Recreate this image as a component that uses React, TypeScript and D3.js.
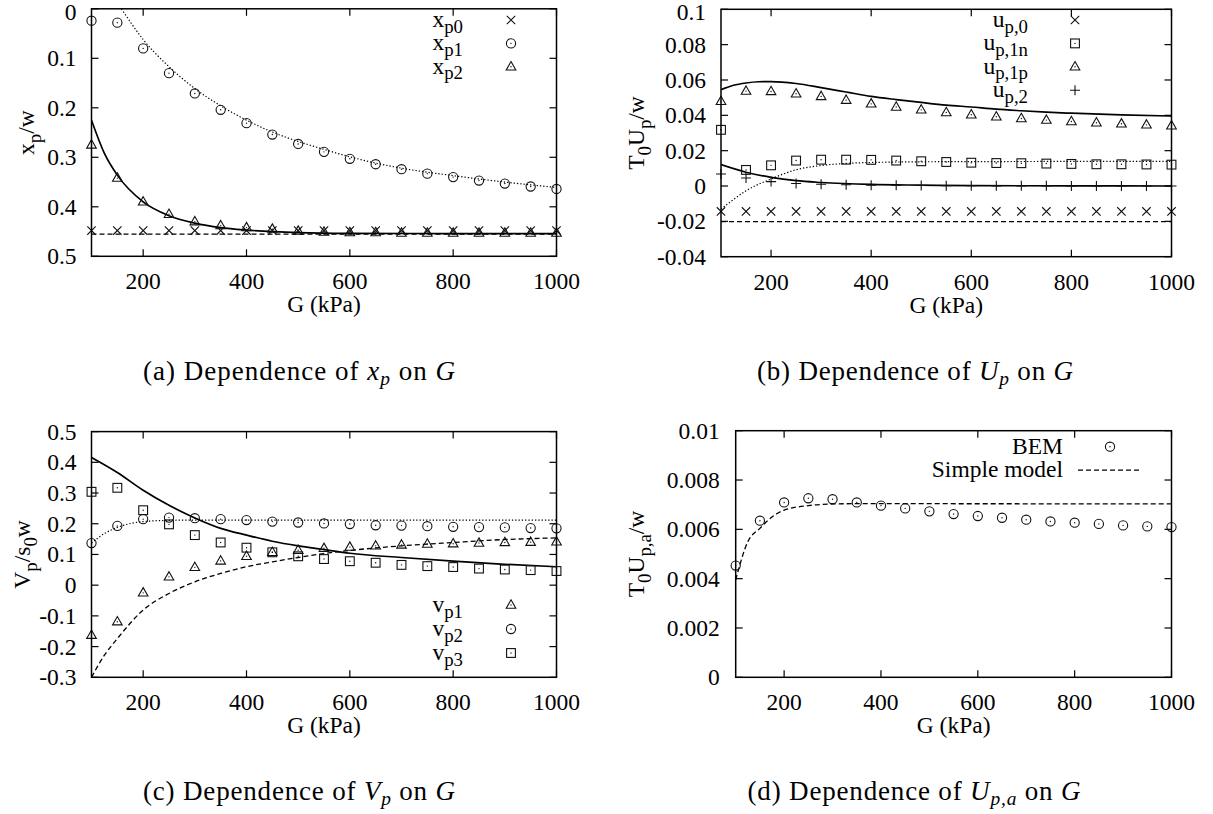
import React from 'react';
import * as d3 from 'd3';

const W = 1213;
const H = 814;
const FONT = "'Liberation Serif', 'Times New Roman', serif";

const G = [100, 150, 200, 250, 300, 350, 400, 450, 500, 550, 600, 650, 700, 750, 800, 850, 900, 950, 1000];
const xTicks = [200, 400, 600, 800, 1000];

// ---------- (a) x_p / w ----------
const aTicks = [0, 0.1, 0.2, 0.3, 0.4, 0.5];
const aTickLabels = ['0', '0.1', '0.2', '0.3', '0.4', '0.5'];
const xp0 = [0.448, 0.448, 0.448, 0.448, 0.448, 0.448, 0.448, 0.448, 0.448, 0.448, 0.448, 0.448, 0.448, 0.448, 0.448, 0.448, 0.448, 0.448, 0.448];
const xp1 = [0.024, 0.028, 0.080, 0.130, 0.171, 0.204, 0.231, 0.254, 0.273, 0.289, 0.303, 0.314, 0.324, 0.333, 0.340, 0.347, 0.353, 0.359, 0.364];
const xp2 = [0.275, 0.342, 0.390, 0.415, 0.430, 0.438, 0.442, 0.445, 0.449, 0.451, 0.452, 0.452, 0.453, 0.453, 0.453, 0.453, 0.453, 0.453, 0.453];
const xp0ModelG = [100, 1000];
const xp0Model = [0.455, 0.455];
const xp1ModelG = [158, 200, 250, 300, 350, 400, 450, 500, 550, 600, 700, 800, 900, 1000];
const xp1Model = [0.0, 0.062, 0.117, 0.161, 0.196, 0.225, 0.249, 0.268, 0.284, 0.299, 0.322, 0.337, 0.350, 0.361];
const xp2ModelG = [100, 125, 150, 200, 250, 300, 350, 400, 500, 600, 800, 1000];
const xp2Model = [0.225, 0.292, 0.336, 0.390, 0.418, 0.433, 0.442, 0.447, 0.452, 0.4535, 0.454, 0.454];

// ---------- (b) T0 U_p / w ----------
const bTicks = [0.1, 0.08, 0.06, 0.04, 0.02, 0, -0.02, -0.04];
const bTickLabels = ['0.1', '0.08', '0.06', '0.04', '0.02', '0', '-0.02', '-0.04'];
const up0 = [-0.0144, -0.0144, -0.0144, -0.0144, -0.0144, -0.0144, -0.0144, -0.0144, -0.0144, -0.0144, -0.0144, -0.0144, -0.0144, -0.0144, -0.0144, -0.0144, -0.0144, -0.0144, -0.0144];
const up1n = [0.0318, 0.0091, 0.0117, 0.0144, 0.0149, 0.0149, 0.0148, 0.0144, 0.0140, 0.0136, 0.0132, 0.0130, 0.0129, 0.0127, 0.0125, 0.0123, 0.0123, 0.0122, 0.0121];
const up1p = [0.0479, 0.0537, 0.0535, 0.0522, 0.0507, 0.0486, 0.0465, 0.0447, 0.0431, 0.0416, 0.0403, 0.0392, 0.0382, 0.0373, 0.0365, 0.0358, 0.0352, 0.0346, 0.0341];
const up2 = [0.0068, 0.0045, 0.0025, 0.0014, 0.0010, 0.0007, 0.0005, 0.0004, 0.0003, 0.0002, 0.0002, 0.0001, 0.0001, 0.0001, 0, 0, 0, 0, 0];
const up0ModelG = [100, 1000];
const up0Model = [-0.0202, -0.0202];
const up1nModelG = [100, 121, 150, 200, 250, 300, 350, 400, 500, 600, 800, 1000];
const up1nModel = [-0.013, -0.0085, -0.0027, 0.0040, 0.0092, 0.0116, 0.0128, 0.0133, 0.0137, 0.0138, 0.0139, 0.0139];
const up1pModelG = [100, 125, 150, 175, 200, 250, 300, 350, 400, 450, 500, 550, 600, 650, 700, 750, 800, 900, 1000];
const up1pModel = [0.0545, 0.0570, 0.0583, 0.0590, 0.0591, 0.0580, 0.0557, 0.0532, 0.0507, 0.0489, 0.0473, 0.0458, 0.0447, 0.0435, 0.0426, 0.0418, 0.0412, 0.0403, 0.0396];
const up2ModelG = [100, 150, 200, 250, 300, 400, 500, 600, 800, 1000];
const up2Model = [0.0121, 0.0078, 0.0049, 0.0030, 0.0020, 0.0009, 0.0005, 0.0002, 0.0001, 0.0];

// ---------- (c) V_p / s0 w ----------
const cTicks = [0.5, 0.4, 0.3, 0.2, 0.1, 0, -0.1, -0.2, -0.3];
const cTickLabels = ['0.5', '0.4', '0.3', '0.2', '0.1', '0', '-0.1', '-0.2', '-0.3'];
const vp1 = [-0.163, -0.119, -0.025, 0.027, 0.058, 0.079, 0.094, 0.107, 0.114, 0.120, 0.124, 0.128, 0.131, 0.134, 0.135, 0.137, 0.139, 0.140, 0.141];
const vp2 = [0.137, 0.193, 0.215, 0.220, 0.218, 0.215, 0.212, 0.207, 0.204, 0.201, 0.199, 0.195, 0.194, 0.192, 0.190, 0.189, 0.188, 0.186, 0.185];
const vp3 = [0.304, 0.317, 0.244, 0.198, 0.163, 0.139, 0.122, 0.107, 0.094, 0.085, 0.078, 0.073, 0.066, 0.062, 0.059, 0.054, 0.051, 0.049, 0.046];
const vp1ModelG = [100, 125, 150, 200, 250, 300, 350, 400, 450, 500, 550, 600, 700, 800, 880, 1000];
const vp1Model = [-0.300, -0.228, -0.174, -0.081, -0.027, 0.011, 0.038, 0.060, 0.076, 0.090, 0.103, 0.113, 0.128, 0.139, 0.147, 0.154];
const vp2ModelG = [100, 125, 150, 200, 250, 300, 1000];
const vp2Model = [0.137, 0.168, 0.188, 0.207, 0.211, 0.212, 0.212];
const vp3ModelG = [100, 150, 200, 250, 300, 350, 400, 450, 500, 550, 600, 700, 800, 900, 1000];
const vp3Model = [0.416, 0.367, 0.309, 0.260, 0.219, 0.185, 0.163, 0.143, 0.128, 0.116, 0.104, 0.090, 0.078, 0.068, 0.060];

// ---------- (d) T0 U_pa / w ----------
const dTicks = [0.01, 0.008, 0.006, 0.004, 0.002, 0];
const dTickLabels = ['0.01', '0.008', '0.006', '0.004', '0.002', '0'];
const upaBEM = [0.00453, 0.00635, 0.00709, 0.00726, 0.00722, 0.00709, 0.00696, 0.00685, 0.00673, 0.00662, 0.00654, 0.00647, 0.00639, 0.00632, 0.00627, 0.00622, 0.00616, 0.00612, 0.00609];
const upaModelG = [100, 125, 150, 175, 200, 250, 300, 350, 1000];
const upaModel = [0.00395, 0.0055, 0.00604, 0.0065, 0.00678, 0.00696, 0.00703, 0.00704, 0.00703];

type Seg = { t: string; sub?: boolean; it?: boolean };

function Rich({ x, y, segs, size, anchor = 'start', rotate = false, subShift = 0.28, subScale = 0.8, textLength }: any) {
  let cur = 0;
  const spans = (segs as Seg[]).map((s, i) => {
    const target = s.sub ? size * subShift : 0;
    const dy = target - cur;
    cur = target;
    return (
      <tspan key={i} dy={dy} fontSize={s.sub ? size * subScale : size} fontStyle={s.it ? 'italic' : 'normal'}>
        {s.t}
      </tspan>
    );
  });
  return (
    <text
      x={x}
      y={y}
      textAnchor={anchor}
      fontFamily={FONT}
      fontSize={size}
      fill="#000"
      textLength={textLength}
      lengthAdjust={textLength ? 'spacing' : undefined}
      transform={rotate ? `rotate(-90 ${x} ${y})` : undefined}
    >
      {spans}
    </text>
  );
}

function Marker({ type, cx, cy }: { type: string; cx: number; cy: number }) {
  const s = { stroke: '#111', strokeWidth: 1.1, fill: 'none' };
  const dot = <circle cx={cx} cy={cy} r={0.7} fill="#111" />;
  switch (type) {
    case 'cross':
      return <path {...s} d={`M${cx - 4.2},${cy - 4.2}L${cx + 4.2},${cy + 4.2}M${cx - 4.2},${cy + 4.2}L${cx + 4.2},${cy - 4.2}`} />;
    case 'plus':
      return <path {...s} d={`M${cx - 5},${cy}L${cx + 5},${cy}M${cx},${cy - 5}L${cx},${cy + 5}`} />;
    case 'circle':
      return (
        <g>
          <circle {...s} cx={cx} cy={cy} r={4.6} />
          {dot}
        </g>
      );
    case 'triangle':
      return (
        <g>
          <path {...s} d={`M${cx},${cy - 5.2}L${cx + 4.8},${cy + 3.2}L${cx - 4.8},${cy + 3.2}Z`} />
          {dot}
        </g>
      );
    case 'square':
      return (
        <g>
          <rect {...s} x={cx - 4.4} y={cy - 4.4} width={8.8} height={8.8} />
          {dot}
        </g>
      );
    default:
      return null;
  }
}

const DASH: Record<string, string | undefined> = {
  solid: undefined,
  dashed: '5 3',
  dotted: '1.3 2',
};
const LW: Record<string, number> = { solid: 1.7, dashed: 1.3, dotted: 1.2 };

function Panel({ id, box, yDomain, ticks, tickLabels, points, lines, legend, ytitle, ytitleX, tickLabelGap }: any) {
  const x = d3.scaleLinear().domain([100, 1000]).range([box.x0, box.x1]);
  const y = d3.scaleLinear().domain(yDomain).range([box.y1, box.y0]);
  const tick = 7;
  const fs = 23.5;
  return (
    <g>
      <defs>
        <clipPath id={`clip-${id}`}>
          <rect x={box.x0} y={box.y0} width={box.x1 - box.x0} height={box.y1 - box.y0} />
        </clipPath>
      </defs>
      {xTicks.map((t) => (
        <g key={`xt${t}`}>
          <line x1={x(t)} x2={x(t)} y1={box.y1} y2={box.y1 - tick} stroke="#000" strokeWidth={1.2} />
          <line x1={x(t)} x2={x(t)} y1={box.y0} y2={box.y0 + tick} stroke="#000" strokeWidth={1.2} />
          <text x={x(t)} y={box.y1 + 33} textAnchor="middle" fontFamily={FONT} fontSize={fs}>
            {t}
          </text>
        </g>
      ))}
      {ticks.map((t: number, i: number) => (
        <g key={`yt${i}`}>
          <line x1={box.x0} x2={box.x0 + tick} y1={y(t)} y2={y(t)} stroke="#000" strokeWidth={1.2} />
          <line x1={box.x1} x2={box.x1 - tick} y1={y(t)} y2={y(t)} stroke="#000" strokeWidth={1.2} />
          <text x={box.x0 - tickLabelGap} y={Math.max(y(t) + 8, 19.5)} textAnchor="end" fontFamily={FONT} fontSize={fs}>
            {tickLabels[i]}
          </text>
        </g>
      ))}
      <g clipPath={`url(#clip-${id})`}>
        {lines.map((l: any, i: number) => {
          const gen = d3
            .line<number>()
            .x((_, j) => x(l.g[j]))
            .y((v) => y(v))
            .curve(d3.curveMonotoneX);
          return (
            <path
              key={`l${i}`}
              d={gen(l.v) || ''}
              fill="none"
              stroke="#000"
              strokeWidth={LW[l.style]}
              strokeDasharray={DASH[l.style]}
            />
          );
        })}
      </g>
      {points.map((p: any, i: number) => (
        <g key={`p${i}`}>
          {p.v.map((v: number, j: number) => (
            <Marker key={j} type={p.marker} cx={x(G[j])} cy={y(v)} />
          ))}
        </g>
      ))}
      <rect x={box.x0} y={box.y0} width={box.x1 - box.x0} height={box.y1 - box.y0} fill="none" stroke="#000" strokeWidth={1.5} />
      {legend.entries.map((e: any, i: number) => {
        const ly = legend.y0 + i * legend.dy;
        return (
          <g key={`lg${i}`}>
            <Rich x={legend.textX} y={ly + 7} segs={e.segs} size={fs} anchor="end" subShift={0.24} />
            {e.marker ? (
              <Marker type={e.marker} cx={legend.symX} cy={ly} />
            ) : (
              <line
                x1={legend.symX - 32}
                x2={legend.symX + 32}
                y1={ly}
                y2={ly}
                stroke="#000"
                strokeWidth={LW[e.style]}
                strokeDasharray={DASH[e.style]}
              />
            )}
          </g>
        );
      })}
      <text x={(box.x0 + box.x1) / 2} y={box.y1 + 56} textAnchor="middle" fontFamily={FONT} fontSize={fs}>
        G (kPa)
      </text>
      <Rich x={ytitleX} y={(box.y0 + box.y1) / 2} segs={ytitle} size={fs} anchor="middle" rotate />
    </g>
  );
}

function Caption({ x, y, segs, len }: any) {
  return <Rich x={x} y={y} segs={segs} size={27} anchor="middle" subShift={0.2} subScale={0.72} textLength={len} />;
}

export default function App() {
  const boxA = { x0: 91.5, x1: 556.5, y0: 8.8, y1: 256.3 };
  const boxB = { x0: 721, x1: 1171.5, y0: 9.3, y1: 256.7 };
  const boxC = { x0: 91.5, x1: 556.5, y0: 431.6, y1: 677.3 };
  const boxD = { x0: 735.7, x1: 1171.5, y0: 430.7, y1: 677.3 };

  return (
    <svg width={W} height={H} style={{ position: 'absolute', left: 0, top: 0, background: '#fff' }}>
      <rect x={0} y={0} width={W} height={H} fill="#fff" />
      <Panel
        id="a"
        box={boxA}
        yDomain={[0.5, 0]}
        ticks={aTicks}
        tickLabels={aTickLabels}
        tickLabelGap={15}
        points={[
          { v: xp0, marker: 'cross' },
          { v: xp1, marker: 'circle' },
          { v: xp2, marker: 'triangle' },
        ]}
        lines={[
          { g: xp0ModelG, v: xp0Model, style: 'dashed' },
          { g: xp1ModelG, v: xp1Model, style: 'dotted' },
          { g: xp2ModelG, v: xp2Model, style: 'solid' },
        ]}
        legend={{
          textX: 463,
          symX: 511,
          y0: 20,
          dy: 23.4,
          entries: [
            { segs: [{ t: 'x' }, { t: 'p0', sub: true }], marker: 'cross' },
            { segs: [{ t: 'x' }, { t: 'p1', sub: true }], marker: 'circle' },
            { segs: [{ t: 'x' }, { t: 'p2', sub: true }], marker: 'triangle' },
          ],
        }}
        ytitle={[{ t: 'x' }, { t: 'p', sub: true }, { t: '/w' }]}
        ytitleX={34}
      />
      <Panel
        id="b"
        box={boxB}
        yDomain={[-0.04, 0.1]}
        ticks={bTicks}
        tickLabels={bTickLabels}
        tickLabelGap={15}
        points={[
          { v: up0, marker: 'cross' },
          { v: up1n, marker: 'square' },
          { v: up1p, marker: 'triangle' },
          { v: up2, marker: 'plus' },
        ]}
        lines={[
          { g: up0ModelG, v: up0Model, style: 'dashed' },
          { g: up1nModelG, v: up1nModel, style: 'dotted' },
          { g: up1pModelG, v: up1pModel, style: 'solid' },
          { g: up2ModelG, v: up2Model, style: 'solid' },
        ]}
        legend={{
          textX: 1028,
          symX: 1075,
          y0: 20,
          dy: 23.4,
          entries: [
            { segs: [{ t: 'u' }, { t: 'p,0', sub: true }], marker: 'cross' },
            { segs: [{ t: 'u' }, { t: 'p,1n', sub: true }], marker: 'square' },
            { segs: [{ t: 'u' }, { t: 'p,1p', sub: true }], marker: 'triangle' },
            { segs: [{ t: 'u' }, { t: 'p,2', sub: true }], marker: 'plus' },
          ],
        }}
        ytitle={[{ t: 'T' }, { t: '0', sub: true }, { t: 'U' }, { t: 'p', sub: true }, { t: '/w' }]}
        ytitleX={644}
      />
      <Panel
        id="c"
        box={boxC}
        yDomain={[-0.3, 0.5]}
        ticks={cTicks}
        tickLabels={cTickLabels}
        tickLabelGap={15}
        points={[
          { v: vp1, marker: 'triangle' },
          { v: vp2, marker: 'circle' },
          { v: vp3, marker: 'square' },
        ]}
        lines={[
          { g: vp1ModelG, v: vp1Model, style: 'dashed' },
          { g: vp2ModelG, v: vp2Model, style: 'dotted' },
          { g: vp3ModelG, v: vp3Model, style: 'solid' },
        ]}
        legend={{
          textX: 463,
          symX: 511,
          y0: 605,
          dy: 24,
          entries: [
            { segs: [{ t: 'v' }, { t: 'p1', sub: true }], marker: 'triangle' },
            { segs: [{ t: 'v' }, { t: 'p2', sub: true }], marker: 'circle' },
            { segs: [{ t: 'v' }, { t: 'p3', sub: true }], marker: 'square' },
          ],
        }}
        ytitle={[{ t: 'V' }, { t: 'p', sub: true }, { t: '/s' }, { t: '0', sub: true }, { t: 'w' }]}
        ytitleX={30}
      />
      <Panel
        id="d"
        box={boxD}
        yDomain={[0, 0.01]}
        ticks={dTicks}
        tickLabels={dTickLabels}
        tickLabelGap={16}
        points={[{ v: upaBEM, marker: 'circle' }]}
        lines={[{ g: upaModelG, v: upaModel, style: 'dashed' }]}
        legend={{
          textX: 1063,
          symX: 1110,
          y0: 446.7,
          dy: 23.4,
          entries: [
            { segs: [{ t: 'BEM' }], marker: 'circle' },
            { segs: [{ t: 'Simple model' }], style: 'dashed' },
          ],
        }}
        ytitle={[{ t: 'T' }, { t: '0', sub: true }, { t: 'U' }, { t: 'p,a', sub: true }, { t: '/w' }]}
        ytitleX={644}
      />
      <Caption
        x={299}
        y={380}
        len={312}
        segs={[{ t: '(a) Dependence of ' }, { t: 'x', it: true }, { t: 'p', it: true, sub: true }, { t: ' on ' }, { t: 'G', it: true }]}
      />
      <Caption
        x={915}
        y={380}
        len={316}
        segs={[{ t: '(b) Dependence of ' }, { t: 'U', it: true }, { t: 'p', it: true, sub: true }, { t: ' on ' }, { t: 'G', it: true }]}
      />
      <Caption
        x={299}
        y={800}
        len={312}
        segs={[{ t: '(c) Dependence of ' }, { t: 'V', it: true }, { t: 'p', it: true, sub: true }, { t: ' on ' }, { t: 'G', it: true }]}
      />
      <Caption
        x={914}
        y={800}
        len={333}
        segs={[{ t: '(d) Dependence of ' }, { t: 'U', it: true }, { t: 'p,a', it: true, sub: true }, { t: ' on ' }, { t: 'G', it: true }]}
      />
    </svg>
  );
}
